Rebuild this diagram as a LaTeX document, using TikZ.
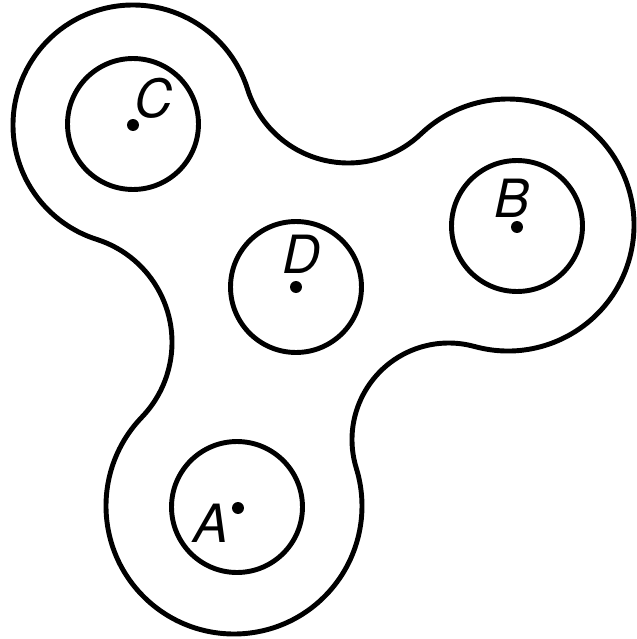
\documentclass[tikz,border=0pt]{standalone}
\usepackage{fontspec}
\setsansfont{TeX Gyre Heros}
\usetikzlibrary{calc}

\begin{document}
\begin{tikzpicture}[x=0.02cm, y=-0.02cm, line width=2.8pt,
    hole/.style={circle, draw, minimum size=2.62cm, inner sep=0pt},
    pivot/.style={circle, fill, minimum size=6.8pt, inner sep=0pt},
    tag/.style={font=\fontsize{30}{32}\selectfont\sffamily\itshape, inner sep=0pt}]
  \useasboundingbox (0,0) rectangle (636,639);

  \coordinate (lobeC) at (133,125);
  \coordinate (lobeB) at (508,225);
  \coordinate (lobeA) at (234,506);
  \coordinate (notchCB) at (348.2,57.5);
  \coordinate (notchCA) at (64,342.3);
  \coordinate (notchAB) at (448.7,439.7);

  \draw ($(lobeC)+(-17.4:120)$) arc[start angle=-17.4, end angle=-252.4, radius=120]
     -- ($(notchCA)+(-72.4:108)$) arc[start angle=-72.4, end angle=43.9, radius=108]
     -- ($(lobeA)+(-136.1:128)$) arc[start angle=-136.1, end angle=-377.2, radius=128]
     -- ($(notchAB)+(162.8:96.7)$) arc[start angle=162.8, end angle=285.4, radius=96.7]
     -- ($(lobeB)+(105.4:126)$) arc[start angle=105.4, end angle=-133.65, radius=126]
     -- ($(notchCB)+(46.35:105.5)$) arc[start angle=46.35, end angle=162.6, radius=105.5]
     -- cycle;

  \node[hole] (holeC) at (133,124) {};
  \node[hole] (holeB) at (517,226) {};
  \node[hole] (holeD) at (296,287) {};
  \node[hole] (holeA) at (237,507) {};

  \node[pivot] (dotC) at (133,125) {};
  \node[pivot] (dotB) at (517,227) {};
  \node[pivot] (dotD) at (296,287) {};
  \node[pivot] (dotA) at (238,508) {};

  \node[tag] (labC) at (154,98) {C};
  \node[tag] (labB) at (512,198) {B};
  \node[tag] (labD) at (302,254) {D};
  \node[tag] (labA) at (211,523) {A};
\end{tikzpicture}
\end{document}
